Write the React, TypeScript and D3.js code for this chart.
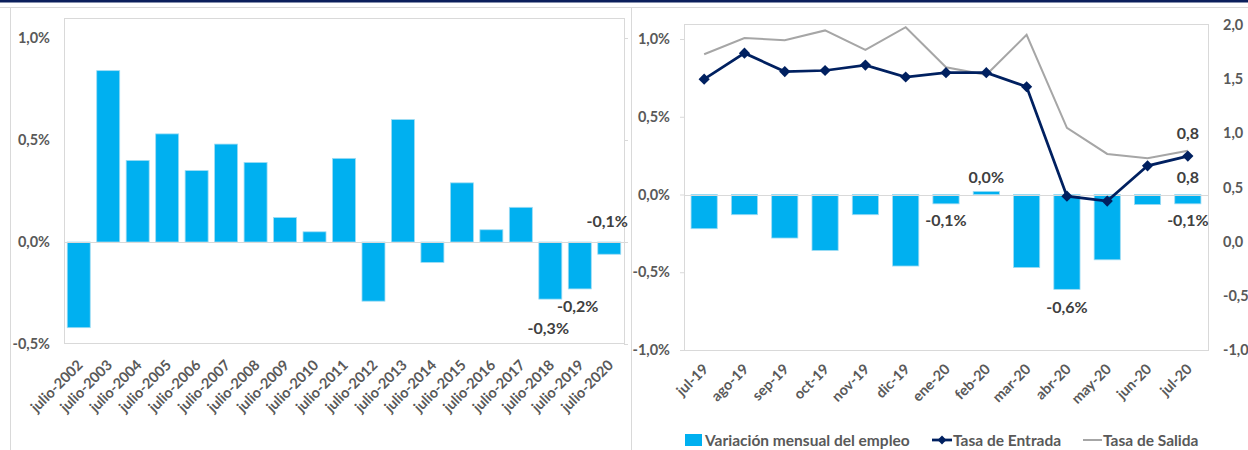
import React, { useEffect, useRef } from 'react';
import * as d3 from 'd3';

// Annual July-on-July change (left panel)
const years = [
    'julio-2002', 'julio-2003', 'julio-2004', 'julio-2005', 'julio-2006', 'julio-2007',
    'julio-2008', 'julio-2009', 'julio-2010', 'julio-2011', 'julio-2012', 'julio-2013',
    'julio-2014', 'julio-2015', 'julio-2016', 'julio-2017', 'julio-2018', 'julio-2019', 'julio-2020'
];
const yearlyChange = [
    -0.42, 0.84, 0.40, 0.53, 0.35, 0.48, 0.39, 0.12, 0.05, 0.41,
    -0.29, 0.60, -0.10, 0.29, 0.06, 0.17, -0.28, -0.23, -0.06
];

// Monthly panel (right)
const months = [
    'jul-19', 'ago-19', 'sep-19', 'oct-19', 'nov-19', 'dic-19', 'ene-20',
    'feb-20', 'mar-20', 'abr-20', 'may-20', 'jun-20', 'jul-20'
];
const monthlyChange = [-0.22, -0.13, -0.28, -0.36, -0.13, -0.46, -0.06, 0.02, -0.47, -0.61, -0.42, -0.065, -0.06];
const entryRate = [1.50, 1.74, 1.57, 1.58, 1.63, 1.52, 1.56, 1.56, 1.43, 0.42, 0.375, 0.70, 0.79];
const exitRate = [1.73, 1.88, 1.86, 1.95, 1.77, 1.98, 1.61, 1.54, 1.91, 1.05, 0.81, 0.77, 0.84];

const leftTicks = [-0.5, 0, 0.5, 1.0];
const monthPctTicks = [-1.0, -0.5, 0, 0.5, 1.0];
const rateTicks = [-1.0, -0.5, 0, 0.5, 1.0, 1.5, 2.0];

const seriesNames = ['Variación mensual del empleo', 'Tasa de Entrada', 'Tasa de Salida'];

const locale = d3.formatLocale({ decimal: ',', thousands: '.', grouping: [3], currency: ['', ''], minus: '-' });
const f1 = locale.format('.1f');
const pct = d => `${f1(d)}%`;

const BAR = '#00b0f0';
const NAVY = '#002060';
const GREY = '#a6a6a6';
const TXT = '#595959';
const FONT = 'Lato, "Open Sans", sans-serif';

const App = () => {
    const svgRef = useRef(null);

    useEffect(() => {
        const width = 1248;
        const height = 450;
        const svg = d3.select(svgRef.current);
        svg.selectAll('*').remove();
        svg.attr('width', width).attr('height', height).style('font-family', FONT);

        svg.append('rect').attr('width', width).attr('height', height).attr('fill', '#fff');
        // top navy strip and panel frames
        svg.append('rect').attr('width', width).attr('height', 2.5).attr('fill', '#0b1f5c');
        svg.append('line').attr('x1', 0).attr('x2', width).attr('y1', 7.5).attr('y2', 7.5).attr('stroke', '#d9d9d9');
        svg.append('line').attr('x1', 10.5).attr('x2', 10.5).attr('y1', 7.5).attr('y2', height).attr('stroke', '#d9d9d9');
        svg.append('line').attr('x1', 631.5).attr('x2', 631.5).attr('y1', 7.5).attr('y2', height).attr('stroke', '#d9d9d9');

        // ---------- left panel ----------
        const L = { left: 64, right: 624, top: 18, bottom: 343 };
        const xL = d3.scaleBand().domain(years).range([L.left, L.right]).paddingInner(0.22).paddingOuter(0.11);
        const yL = d3.scaleLinear().domain([-0.5, 1.0]).range([344, 38]);

        const left = svg.append('g');
        left.append('rect')
            .attr('x', L.left + 0.5).attr('y', L.top + 0.5)
            .attr('width', L.right - L.left).attr('height', L.bottom - L.top)
            .attr('fill', 'none').attr('stroke', '#d9d9d9');

        left.append('g')
            .attr('transform', `translate(${L.left}, 0)`)
            .call(d3.axisLeft(yL).tickValues(leftTicks).tickSize(0).tickPadding(14).tickFormat(pct))
            .call(g => g.select('.domain').remove())
            .selectAll('text')
            .style('font-size', '14.5px').style('font-weight', 700).style('fill', TXT)
            .style('font-family', FONT);

        // small outward ticks on the right edge
        left.selectAll('.rtick').data(leftTicks).join('line')
            .attr('x1', L.right).attr('x2', L.right + 4)
            .attr('y1', d => Math.round(yL(d)) + 0.5).attr('y2', d => Math.round(yL(d)) + 0.5)
            .attr('stroke', '#d9d9d9');

        left.selectAll('.bar').data(years).join('rect')
            .attr('x', d => xL(d))
            .attr('width', xL.bandwidth())
            .attr('y', (d, i) => yL(Math.max(0, yearlyChange[i])))
            .attr('height', (d, i) => Math.abs(yL(yearlyChange[i]) - yL(0)))
            .attr('fill', BAR).attr('stroke', '#9fdcf3').attr('stroke-width', 0.8);

        left.append('line')
            .attr('x1', L.left).attr('x2', L.right)
            .attr('y1', Math.round(yL(0)) + 0.5).attr('y2', Math.round(yL(0)) + 0.5)
            .attr('stroke', '#d9d9d9');

        left.append('g')
            .attr('transform', `translate(0, ${L.bottom})`)
            .call(d3.axisBottom(xL).tickSize(0))
            .call(g => g.select('.domain').remove())
            .selectAll('text')
            .attr('y', 0).attr('dy', 0)
            .attr('text-anchor', 'end')
            .attr('transform', 'translate(5, 23) rotate(-45)')
            .style('font-size', '14.5px').style('font-weight', 700).style('fill', TXT)
            .style('font-family', FONT);

        // data labels on the last three years
        const leftLabels = [
            { cat: 'julio-2018', dy: 35 },
            { cat: 'julio-2019', dy: 23 },
            { cat: 'julio-2020', dy: -15 }
        ];
        left.selectAll('.lbl').data(leftLabels).join('text')
            .attr('x', d => xL(d.cat) + xL.bandwidth() / 2 - 2)
            .attr('y', d => (d.dy > 0 ? yL(yearlyChange[years.indexOf(d.cat)]) : yL(0)) + d.dy)
            .attr('text-anchor', 'middle')
            .style('font-size', '16px').style('font-weight', 700).style('fill', '#404040')
            .text(d => pct(yearlyChange[years.indexOf(d.cat)]));

        // ---------- right panel ----------
        const R = { left: 684, right: 1208, top: 24, bottom: 350 };
        const xR = d3.scaleBand().domain(months).range([R.left, R.right]).paddingInner(0.35).paddingOuter(0.175);
        const yR = d3.scaleLinear().domain([-1, 1]).range([350, 39]);
        const yRate = d3.scaleLinear().domain([-1, 2]).range([350, 25]);
        const cx = d => xR(d) + xR.bandwidth() / 2;

        const right = svg.append('g');
        right.append('rect')
            .attr('x', R.left + 0.5).attr('y', R.top + 0.5)
            .attr('width', R.right - R.left).attr('height', R.bottom - R.top)
            .attr('fill', 'none').attr('stroke', '#d9d9d9');

        right.append('g')
            .attr('transform', `translate(${R.left}, 0)`)
            .call(d3.axisLeft(yR).tickValues(monthPctTicks).tickSize(4).tickPadding(10).tickFormat(pct))
            .call(g => g.select('.domain').remove())
            .call(g => g.selectAll('line').attr('stroke', '#d9d9d9'))
            .selectAll('text')
            .style('font-size', '14.5px').style('font-weight', 700).style('fill', TXT)
            .style('font-family', FONT);

        right.append('g')
            .attr('transform', `translate(${R.right}, 0)`)
            .call(d3.axisRight(yRate).tickValues(rateTicks).tickSize(0).tickPadding(15).tickFormat(f1))
            .call(g => g.select('.domain').remove())
            .selectAll('text')
            .style('font-size', '14.5px').style('font-weight', 700).style('fill', TXT)
            .style('font-family', FONT);

        right.selectAll('.bar').data(months).join('rect')
            .attr('x', d => xR(d))
            .attr('width', xR.bandwidth())
            .attr('y', (d, i) => yR(Math.max(0, monthlyChange[i])))
            .attr('height', (d, i) => Math.abs(yR(monthlyChange[i]) - yR(0)))
            .attr('fill', BAR).attr('stroke', '#9fdcf3').attr('stroke-width', 0.8);

        right.append('line')
            .attr('x1', R.left).attr('x2', R.right)
            .attr('y1', Math.round(yR(0)) + 0.5).attr('y2', Math.round(yR(0)) + 0.5)
            .attr('stroke', '#d9d9d9');

        const line = d3.line().x((d, i) => cx(months[i])).y(d => yRate(d));
        right.append('path').attr('d', line(exitRate))
            .attr('fill', 'none').attr('stroke', GREY).attr('stroke-width', 2);
        right.append('path').attr('d', line(entryRate))
            .attr('fill', 'none').attr('stroke', NAVY).attr('stroke-width', 2.75);

        const diamond = d3.symbol().type(d3.symbolDiamond2).size(80);
        right.selectAll('.mk').data(entryRate).join('path')
            .attr('d', diamond())
            .attr('transform', (d, i) => `translate(${cx(months[i])}, ${yRate(d)})`)
            .attr('fill', NAVY);

        right.append('g')
            .attr('transform', `translate(0, ${R.bottom})`)
            .call(d3.axisBottom(xR).tickSize(0))
            .call(g => g.select('.domain').remove())
            .selectAll('text')
            .attr('y', 0).attr('dy', 0)
            .attr('text-anchor', 'end')
            .attr('transform', 'translate(5, 20) rotate(-45)')
            .style('font-size', '14.5px').style('font-weight', 700).style('fill', TXT)
            .style('font-family', FONT);

        const barLabels = [
            { cat: 'ene-20', dy: 22 },
            { cat: 'feb-20', dy: -8 },
            { cat: 'abr-20', dy: 24 },
            { cat: 'jul-20', dy: 22 }
        ];
        right.selectAll('.blbl').data(barLabels).join('text')
            .attr('x', d => cx(d.cat))
            .attr('y', d => yR(monthlyChange[months.indexOf(d.cat)]) + d.dy)
            .attr('text-anchor', 'middle')
            .style('font-size', '16px').style('font-weight', 700).style('fill', '#404040')
            .text(d => pct(monthlyChange[months.indexOf(d.cat)]));

        const last = months.length - 1;
        const rateLabels = [
            { v: exitRate[last], dy: -12 },
            { v: entryRate[last], dy: 27 }
        ];
        right.selectAll('.rlbl').data(rateLabels).join('text')
            .attr('x', cx(months[last]))
            .attr('y', d => yRate(d.v) + d.dy)
            .attr('text-anchor', 'middle')
            .style('font-size', '16px').style('font-weight', 700).style('fill', '#404040')
            .text(d => f1(d.v));

        // legend
        const legend = right.append('g').style('font-size', '15.5px').style('font-weight', 700).style('fill', TXT);
        const ly = 440;
        legend.append('rect').attr('x', 685).attr('y', ly - 6).attr('width', 17).attr('height', 12).attr('fill', BAR);
        legend.append('text').attr('x', 705).attr('y', ly + 5.5).text(seriesNames[0]);
        legend.append('line').attr('x1', 932).attr('x2', 952).attr('y1', ly).attr('y2', ly)
            .attr('stroke', NAVY).attr('stroke-width', 2.75);
        legend.append('path').attr('d', d3.symbol().type(d3.symbolDiamond2).size(50)())
            .attr('transform', `translate(942, ${ly})`).attr('fill', NAVY);
        legend.append('text').attr('x', 953).attr('y', ly + 5.5).text(seriesNames[1]);
        legend.append('line').attr('x1', 1083).attr('x2', 1102).attr('y1', ly).attr('y2', ly)
            .attr('stroke', GREY).attr('stroke-width', 2);
        legend.append('text').attr('x', 1103).attr('y', ly + 5.5).text(seriesNames[2]);
    }, []);

    return (
        <div style={{ position: 'absolute', left: 0, top: 0, width: 1248, height: 450, overflow: 'hidden' }}>
            <svg ref={svgRef} style={{ display: 'block' }}></svg>
        </div>
    );
};

export default App;
